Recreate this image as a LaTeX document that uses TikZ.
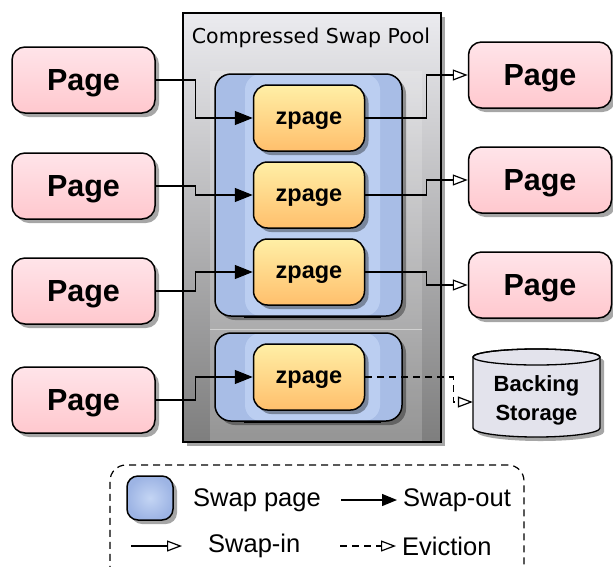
\documentclass[tikz,border=0pt]{standalone}
\usepackage{fontspec}
\setmainfont{Liberation Sans}
\newfontfamily\titlefont{DejaVu Sans}
\usetikzlibrary{arrows.meta,shadows,calc}
\definecolor{pinkT}{HTML}{FFE4E9}
\definecolor{pinkB}{HTML}{FFC8CE}
\definecolor{zT}{HTML}{FFEFA6}
\definecolor{zB}{HTML}{FFBF6C}
\definecolor{spBlue}{HTML}{A8BDE6}
\definecolor{spLight}{HTML}{BBCEF1}
\definecolor{lgOuter}{HTML}{9DB4E4}
\definecolor{lgInner}{HTML}{C4D5F4}
\definecolor{poolT}{HTML}{EBEBEF}
\definecolor{poolB}{HTML}{7E7E7E}
\definecolor{bsFill}{HTML}{E3E3EC}
\tikzset{
  shd/.style={drop shadow={shadow xshift=4pt,shadow yshift=-4pt,opacity=0.35,fill=black}},
  pagebox/.style={draw=black,line width=1.5pt,rounded corners=13pt,minimum width=143pt,minimum height=66pt,
    top color=pinkT,bottom color=pinkB,shd,text depth=0pt,font=\fontsize{30.5}{32}\selectfont\bfseries},
  zbox/.style={draw=black,line width=1.5pt,rounded corners=14pt,minimum width=111pt,minimum height=66pt,
    top color=zT,bottom color=zB,shd,text depth=0pt,font=\fontsize{23.5}{25}\selectfont\bfseries},
  swappg/.style={draw=black,line width=1.5pt,rounded corners=16pt,minimum width=187pt,fill=spBlue,shd,
    path picture={\fill[spLight] ([xshift=30pt]path picture bounding box.south west) rectangle ([xshift=-22pt]path picture bounding box.north east);}},
  conn/.style={line width=1.3pt},
  soarr/.style={conn,-{Triangle[length=18pt,width=14pt]}},
  siarr/.style={conn,-{Triangle[open,length=15pt,width=11pt,line width=1.2pt]}},
  evarr/.style={siarr,dash pattern=on 7pt off 5pt},
  lgtext/.style={font=\fontsize{25.5}{27}\selectfont,anchor=west,inner sep=0pt},
}
\begin{document}
\begin{tikzpicture}[x=1pt,y=-1pt]
\useasboundingbox (0,0) rectangle (613,566);
\clip (0,0) rectangle (613,566);
% pool
\node[draw=black,line width=1.3pt,minimum width=258pt,minimum height=429pt,top color=poolT,bottom color=poolB,shd] (pool) at (312,227.5) {};
\fill[white,opacity=0.18] (210,71) rectangle (422,441);
\draw[white,opacity=0.45,line width=1pt] (210,329) -- (422,329);
\node[font=\titlefont\fontsize{20.5}{22}\selectfont] (title) at (311,38) {Compressed Swap Pool};
% swap pages
\node[swappg,minimum height=242pt] (sp1) at (308.5,195) {};
\node[swappg,minimum height=88pt] (sp2) at (308.5,377) {};
\draw[line width=2.5pt] ([xshift=30pt]sp1.south west) -- ([xshift=-22pt]sp1.south east);
\draw[line width=2.5pt] ([xshift=30pt]sp2.south west) -- ([xshift=-22pt]sp2.south east);
% zpages
\node[zbox] (z1) at (309,118) {zpage};
\node[zbox] (z2) at (309,195) {zpage};
\node[zbox] (z3) at (309,272) {zpage};
\node[zbox] (z4) at (309,377) {zpage};
% left pages
\node[pagebox] (L1) at (83.5,80) {Page};
\node[pagebox] (L2) at (83.5,186) {Page};
\node[pagebox] (L3) at (83.5,291) {Page};
\node[pagebox] (L4) at (83.5,400) {Page};
% right pages
\node[pagebox] (R1) at (540,75) {Page};
\node[pagebox] (R2) at (540,180) {Page};
\node[pagebox] (R3) at (540,285) {Page};
% backing storage
\path[draw=black,line width=1.3pt,fill=bsFill,shd] (473,357) -- (473,428)
  arc[start angle=180,end angle=0,x radius=63.5,y radius=9] -- (600,357)
  arc[start angle=0,end angle=-180,x radius=63.5,y radius=8] -- cycle;
\draw[line width=1.3pt] (536.5,357) ellipse [x radius=63.5,y radius=8];
\node[minimum width=127pt,minimum height=80pt,align=center,font=\fontsize{22}{29}\selectfont\bfseries] (bs) at (536.5,400) {Backing\\Storage};
% connectors
\draw[soarr] (L1.east) -- ++(40,0) |- (z1.west);
\draw[soarr] (L2.east) -- ++(40,0) |- (z2.west);
\draw[soarr] (L3.east) -- ++(40,0) |- (z3.west);
\draw[soarr] (L4.east) -- ++(40,0) |- (z4.west);
\draw[siarr] (z1.east) -- ++(61,0) |- (R1.west);
\draw[siarr] (z2.east) -- ++(61,0) |- (R2.west);
\draw[siarr] (z3.east) -- ++(61,0) |- (R3.west);
\draw[evarr] (z4.east) -- ++(88,0) |- ([yshift=-2pt]bs.west);
% legend
\node[draw=black,line width=1.2pt,dash pattern=on 7pt off 5pt,rounded corners=16pt,minimum width=414pt,minimum height=140pt] (legend) at (317,535) {};
\node[draw=black,line width=1.5pt,rounded corners=11pt,minimum width=46pt,minimum height=44pt,inner color=lgInner,outer color=lgOuter,shd] (lsp) at (150,498) {};
\node[lgtext] (tsp) at (193,500) {Swap page};
\coordinate (so1) at (341,500);
\coordinate (so2) at (397,500);
\draw[conn,-{Triangle[length=15pt,width=12pt]}] (so1) -- (so2);
\node[lgtext] (tso) at (403,500) {Swap-out};
\coordinate (si1) at (131,546);
\coordinate (si2) at (182,546);
\draw[siarr] (si1) -- (si2);
\node[lgtext] (tsi) at (208,546) {Swap-in};
\coordinate (ev1) at (340,546);
\coordinate (ev2) at (396,546);
\draw[evarr] (ev1) -- (ev2);
\node[lgtext] (tev) at (402,546) {Eviction};
\end{tikzpicture}
\end{document}
